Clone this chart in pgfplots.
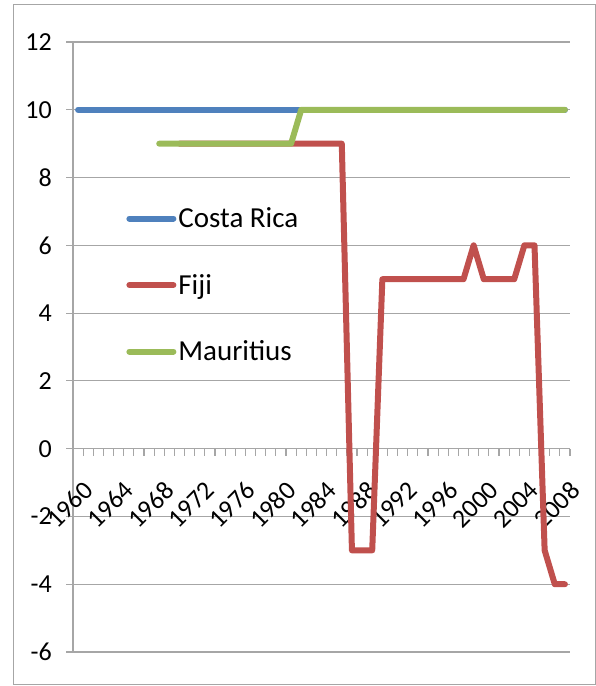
\documentclass[border=0pt]{standalone}
\usepackage{fontspec}
\setmainfont{Carlito}
\usepackage{pgfplots}
\pgfplotsset{compat=1.18}
\definecolor{cblue}{HTML}{4F81BD}
\definecolor{cred}{HTML}{C0504D}
\definecolor{cgreen}{HTML}{9BBB59}
\definecolor{gridc}{HTML}{A6A6A6}
\begin{document}
\begin{tikzpicture}[x=1pt,y=1pt]
\useasboundingbox (0,0) rectangle (596,686);
\draw[gridc, line width=1pt] (13,1) rectangle (595,681);
\begin{axis}[
  at={(73pt,34pt)}, anchor=south west,
  scale only axis, width=497pt, height=610pt,
  xmin=1959.5, xmax=2008.5, ymin=-6, ymax=12,
  axis x line=middle, axis y line=left,
  hide obscured x ticks=false, hide obscured y ticks=false,
  axis line style={gridc, line width=1.2pt, -},
  ytick={-6,-4,...,12},
  minor ytick={-6,-4,...,12},
  ymajorgrids, grid style={gridc, line width=1.2pt},
  xtick={1960,1964,1968,1972,1976,1980,1984,1988,1992,1996,2000,2004,2008},
  minor xtick={1959.5,1960.5,...,2008.5},
  tick align=outside, major tick length=0pt, minor tick length=7pt,
  tick style={gridc, line width=1.2pt},
  tick label style={font=\fontsize{26}{30}\selectfont},
  /pgf/number format/assume math mode=true,
  /pgf/number format/1000 sep={},
  x tick label style={xshift=4pt, yshift=-31pt, rotate=45, anchor=north east, inner sep=0pt},
  y tick label style={anchor=east, inner sep=0pt, xshift=-21pt},
  legend style={draw=none, fill=none, at={(0.101,0.735)}, anchor=north west,
    font=\fontsize{29}{33}\selectfont, row sep=41pt,
    /tikz/every even column/.append style={column sep=0pt}},
  legend cell align=left,
  legend image code/.code={\draw[#1] (0pt,0pt) -- (44pt,0pt);},
  every axis plot/.append style={line width=6pt, line join=round, line cap=round},
]
\addplot[cblue] coordinates {
(1960,10)(1961,10)(1962,10)(1963,10)(1964,10)(1965,10)(1966,10)(1967,10)(1968,10)(1969,10)
(1970,10)(1971,10)(1972,10)(1973,10)(1974,10)(1975,10)(1976,10)(1977,10)(1978,10)(1979,10)
(1980,10)(1981,10)(1982,10)(1983,10)(1984,10)(1985,10)(1986,10)(1987,10)(1988,10)(1989,10)
(1990,10)(1991,10)(1992,10)(1993,10)(1994,10)(1995,10)(1996,10)(1997,10)(1998,10)(1999,10)
(2000,10)(2001,10)(2002,10)(2003,10)(2004,10)(2005,10)(2006,10)(2007,10)(2008,10)};
\addlegendentry{Costa Rica}
\addplot[cred] coordinates {
(1970,9)(1971,9)(1972,9)(1973,9)(1974,9)(1975,9)(1976,9)(1977,9)(1978,9)(1979,9)
(1980,9)(1981,9)(1982,9)(1983,9)(1984,9)(1985,9)(1986,9)(1987,-3)(1988,-3)(1989,-3)
(1990,5)(1991,5)(1992,5)(1993,5)(1994,5)(1995,5)(1996,5)(1997,5)(1998,5)(1999,6)
(2000,5)(2001,5)(2002,5)(2003,5)(2004,6)(2005,6)(2006,-3)(2007,-4)(2008,-4)};
\addlegendentry{Fiji}
\addplot[cgreen] coordinates {
(1968,9)(1969,9)
(1970,9)(1971,9)(1972,9)(1973,9)(1974,9)(1975,9)(1976,9)(1977,9)(1978,9)(1979,9)
(1980,9)(1981,9)(1982,10)(1983,10)(1984,10)(1985,10)(1986,10)(1987,10)(1988,10)(1989,10)
(1990,10)(1991,10)(1992,10)(1993,10)(1994,10)(1995,10)(1996,10)(1997,10)(1998,10)(1999,10)
(2000,10)(2001,10)(2002,10)(2003,10)(2004,10)(2005,10)(2006,10)(2007,10)(2008,10)};
\addlegendentry{Mauritius}
\end{axis}
\end{tikzpicture}
\end{document}
